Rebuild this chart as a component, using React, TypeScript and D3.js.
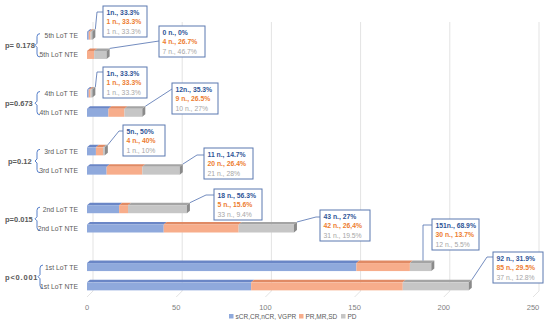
import React from 'react';
import * as d3 from 'd3';

// categories top to bottom
const categories = [
  '5th LoT TE', '5th LoT NTE',
  '4th LoT TE', '4th LoT NTE',
  '3rd LoT TE', '3rd LoT NTE',
  '2nd LoT TE', '2nd LoT NTE',
  '1st LoT TE', '1st LoT NTE',
];
const responders = [1, 0, 1, 12, 5, 11, 18, 43, 151, 92];
const partial = [1, 4, 1, 9, 4, 20, 5, 42, 30, 85];
const progression = [1, 7, 1, 10, 1, 21, 33, 31, 12, 37];

const respLabels = ['1n., 33.3%', '0 n., 0%', '1n., 33.3%', '12n., 35.3%', '5n., 50%', '11 n., 14.7%', '18 n., 56.3%', '43 n., 27%', '151n., 68.9%', '92 n., 31.9%'];
const partLabels = ['1 n., 33.3%', '4 n., 26.7%', '1 n., 33.3%', '9 n., 26.5%', '4 n., 40%', '20 n., 26.4%', '5 n., 15.6%', '42 n., 26,4%', '30 n., 13.7%', '85 n., 29.5%'];
const pdLabels = ['1 n., 33.3%', '7 n., 46.7%', '1 n., 33.3%', '10 n., 27%', '1 n., 10%', '21 n., 28%', '33 n., 9.4%', '31 n., 19.5%', '12 n., 5.5%', '37 n., 12.8%'];

const pValues = ['p= 0.178', 'p=0.673', 'p=0.12', 'p=0.015', 'p<0.001'];
const xTicks = [0, 50, 100, 150, 200, 250];
const seriesNames = ['sCR,CR,nCR, VGPR', 'PR,MR,SD', 'PD'];

// callout box placement (layout only)
const callouts = [
  { bx: 103, by: 6, w: 44, elbow: 97, ly: 12 },
  { bx: 159, by: 26, w: 46, elbow: null, ly: 41 },
  { bx: 103, by: 67, w: 44, elbow: 97, ly: 72 },
  { bx: 172, by: 83, w: 46, elbow: null, ly: 89 },
  { bx: 123, by: 125, w: 42, elbow: 119, ly: 131 },
  { bx: 204, by: 148, w: 49, elbow: 197, ly: 155 },
  { bx: 214, by: 189, w: 48, elbow: 206, ly: 195 },
  { bx: 320, by: 210, w: 50, elbow: 316, ly: 217 },
  { bx: 432, by: 219, w: 47, elbow: 423, ly: 225, drop: true },
  { bx: 493, by: 252, w: 50, elbow: 487, ly: 257 },
];

const W = 550;
const H = 327;
const FONT = '"Liberation Sans", Arial, sans-serif';

const front = ['#8FA9DC', '#F7AD8B', '#C6C6C6'];
const top = ['#6A86C6', '#E08A64', '#A4A4A4'];
const textCol = ['#2F5597', '#ED7D31', '#A6A6A6'];

export default function App() {
  const x = d3.scaleLinear().domain([0, 250]).range([87, 533]);
  const slots = d3.range(14);
  const y = d3.scaleBand<number>().domain(slots).range([26, 296]);
  const slotOf = (i: number) => i + Math.floor(i / 2);
  const cy = (i: number) => (y(slotOf(i)) as number) + y.bandwidth() / 2;

  const bh = 8;
  const dx = 3;
  const dy = 2.5;
  const gdx = 6;
  const gdy = 6;

  const rows = categories.map((c, i) => {
    const vals = [responders[i], partial[i], progression[i]];
    const stack: { s: number; x0: number; x1: number }[] = [];
    let acc = 0;
    vals.forEach((v, s) => {
      stack.push({ s, x0: acc, x1: acc + v });
      acc += v;
    });
    return { c, i, stack, total: acc };
  });

  return (
    <svg width={W} height={H} style={{ display: 'block', position: 'absolute', left: 0, top: 0, background: '#fff' }} fontFamily={FONT}>
      {/* back wall gridlines */}
      {xTicks.map(t => (
        <g key={t}>
          <line x1={x(t) + gdx} x2={x(t) + gdx} y1={22} y2={297 - gdy} stroke="#E3E3E3" strokeWidth={1} />
          <line x1={x(t) + gdx} x2={x(t)} y1={297 - gdy} y2={297} stroke="#E3E3E3" strokeWidth={1} />
          <text x={x(t)} y={310} fontSize={7.5} fill="#7F7F7F" textAnchor="middle">{t}</text>
        </g>
      ))}

      {/* bars */}
      {rows.map(r => {
        const yc = cy(r.i);
        const y0 = yc - bh / 2;
        return (
          <g key={r.c}>
            {r.stack.map(seg => {
              if (seg.x1 === seg.x0) return null;
              const a = x(seg.x0);
              const b = x(seg.x1);
              return (
                <g key={seg.s}>
                  <polygon points={`${a},${y0} ${a + dx},${y0 - dy} ${b + dx},${y0 - dy} ${b},${y0}`} fill={top[seg.s]} />
                  <rect x={a} y={y0} width={b - a} height={bh} fill={front[seg.s]} />
                </g>
              );
            })}
            <polygon
              points={`${x(r.total)},${y0} ${x(r.total) + dx},${y0 - dy} ${x(r.total) + dx},${y0 + bh - dy} ${x(r.total)},${y0 + bh}`}
              fill="#8A8A8A"
            />
            <text x={78} y={yc + 2.5} fontSize={6.8} fill="#595959" textAnchor="end">{r.c}</text>
          </g>
        );
      })}

      {/* p-values with braces */}
      {pValues.map((p, g) => {
        const ya = cy(g * 2);
        const yb = cy(g * 2 + 1);
        const m = (ya + yb) / 2;
        const bx = g === 4 ? 40 : 37;
        const t = ya - 2;
        const b = yb + 2;
        return (
          <g key={p}>
            <text x={g === 2 ? 8 : 5} y={m + 3} fontSize={7.5} fontWeight="bold" fill="#595959" letterSpacing={g === 4 ? 0.8 : 0}>{p}</text>
            <path
              d={`M${bx + 3},${t} Q${bx},${t} ${bx},${t + 3} L${bx},${m - 2} L${bx - 2},${m} L${bx},${m + 2} L${bx},${b - 3} Q${bx},${b} ${bx + 3},${b}`}
              fill="none"
              stroke="#4472C4"
              strokeWidth={0.9}
            />
          </g>
        );
      })}

      {/* callouts */}
      {callouts.map((co, i) => {
        const r = rows[i];
        const ex = x(r.total) + dx;
        const ey = cy(i) - bh / 2 - dy;
        let pts: [number, number][];
        if (co.drop) pts = [[co.bx, co.ly], [co.elbow as number, co.ly], [co.elbow as number, ey]];
        else if (co.elbow !== null) pts = [[co.bx, co.ly], [co.elbow, co.ly], [ex, ey]];
        else pts = [[co.bx, co.ly], [ex, ey]];
        const lines = [respLabels[i], partLabels[i], pdLabels[i]];
        return (
          <g key={i}>
            <path d={d3.line()(pts) as string} fill="none" stroke="#4F6FAE" strokeWidth={0.8} />
            <rect x={co.bx} y={co.by} width={co.w} height={31} fill="#fff" stroke="#5B78B0" strokeWidth={1} />
            {lines.map((l, k) => (
              <text key={k} x={co.bx + 3.5} y={co.by + 8.8 + k * 9.5} fontSize={6.8} fontWeight={k < 2 ? 'bold' : 'normal'} fill={textCol[k]}>{l}</text>
            ))}
          </g>
        );
      })}

      {/* legend */}
      {(() => {
        const lx = [229, 299, 341];
        return seriesNames.map((n, s) => (
          <g key={n}>
            <rect x={lx[s]} y={314} width={4.5} height={4.5} fill={front[s]} />
            <text x={lx[s] + 6.5} y={319} fontSize={6.5} fill="#595959">{n}</text>
          </g>
        ));
      })()}
    </svg>
  );
}
